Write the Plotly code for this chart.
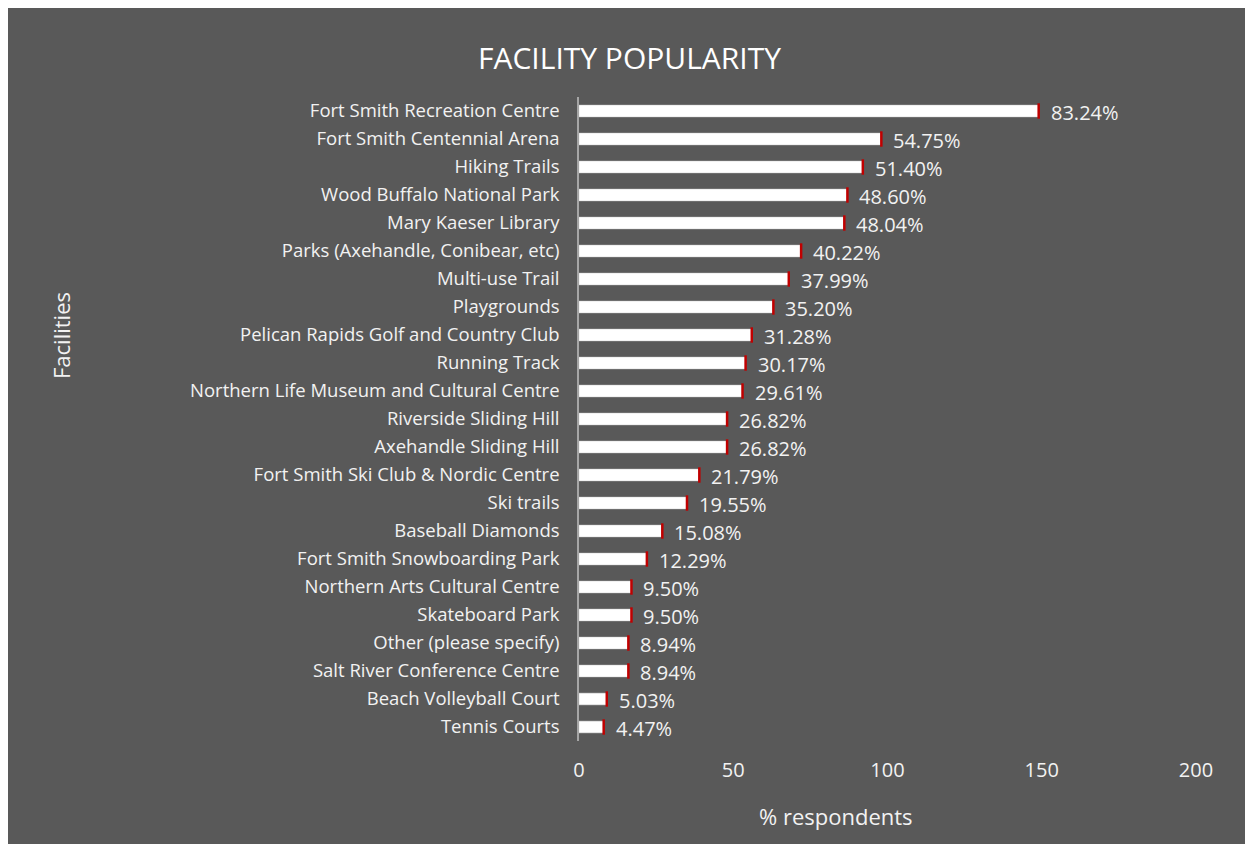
import plotly.graph_objects as go

facilities = [
    "Fort Smith Recreation Centre",
    "Fort Smith Centennial Arena",
    "Hiking Trails",
    "Wood Buffalo National Park",
    "Mary Kaeser Library",
    "Parks (Axehandle, Conibear, etc)",
    "Multi-use Trail",
    "Playgrounds",
    "Pelican Rapids Golf and Country Club",
    "Running Track",
    "Northern Life Museum and Cultural Centre",
    "Riverside Sliding Hill",
    "Axehandle Sliding Hill",
    "Fort Smith Ski Club & Nordic Centre",
    "Ski trails",
    "Baseball Diamonds",
    "Fort Smith Snowboarding Park",
    "Northern Arts Cultural Centre",
    "Skateboard Park",
    "Other (please specify)",
    "Salt River Conference Centre",
    "Beach Volleyball Court",
    "Tennis Courts",
]
respondents = [149, 98, 92, 87, 86, 72, 68, 63, 56, 54, 53, 48, 48, 39, 35, 27, 22, 17, 17, 16, 16, 9, 8]
percent_labels = ["83.24%", "54.75%", "51.40%", "48.60%", "48.04%", "40.22%", "37.99%", "35.20%",
                  "31.28%", "30.17%", "29.61%", "26.82%", "26.82%", "21.79%", "19.55%", "15.08%",
                  "12.29%", "9.50%", "9.50%", "8.94%", "8.94%", "5.03%", "4.47%"]
x_ticks = [0, 50, 100, 150, 200]

FONT = "Open Sans"
BG = "#595959"
TXT = "#F2F2F2"

fig = go.Figure()
fig.add_trace(go.Bar(
    x=respondents, y=facilities, orientation="h",
    marker=dict(color="#FFFFFF", line=dict(color="#D0D0D0", width=0.5)),
    width=0.42, hoverinfo="x+y", showlegend=False,
))
fig.add_trace(go.Scatter(
    x=respondents, y=facilities, mode="markers",
    marker=dict(symbol="line-ns", size=11, line=dict(color="#C00000", width=2.5)),
    hoverinfo="skip", showlegend=False,
))

for f, v, lab in zip(facilities, respondents, percent_labels):
    fig.add_annotation(x=v, y=f, text=lab, showarrow=False, xanchor="left",
                       xshift=10, yshift=-1,
                       font=dict(family=FONT, size=20, color=TXT))

# figure is placed with an 8px page margin; coordinates below are figure pixels
W, H = 1253, 844
ml, mr, mt, mb = 571, 65, 89, 111
pw = W - ml - mr
ph = H - mt - mb

def px_x(p):
    return (p - ml) / pw

def px_y(p):
    return 1 - (p - mt) / ph

fig.add_annotation(xref="paper", yref="paper", x=px_x(621), y=px_y(49), text="FACILITY POPULARITY",
                   showarrow=False, xanchor="center", yanchor="middle",
                   font=dict(family=FONT, size=30, color="#FFFFFF"))
fig.add_annotation(xref="paper", yref="paper", x=px_x(828), y=px_y(808), text="% respondents",
                   showarrow=False, xanchor="center", yanchor="middle",
                   font=dict(family=FONT, size=22, color=TXT))
fig.add_annotation(xref="paper", yref="paper", x=px_x(53), y=px_y(328), text="Facilities",
                   showarrow=False, xanchor="center", yanchor="middle", textangle=-90,
                   font=dict(family=FONT, size=22, color=TXT))

fig.update_layout(
    width=W, height=H,
    margin=dict(l=ml, r=mr, t=mt, b=mb, autoexpand=False),
    paper_bgcolor=BG, plot_bgcolor=BG,
    font=dict(family=FONT, color=TXT),
)
fig.update_xaxes(range=[0, 200], tickvals=x_ticks, showgrid=False, zeroline=False,
                 showline=False, ticks="", tickfont=dict(family=FONT, size=20, color=TXT),
                 ticklabelstandoff=15, fixedrange=True)
fig.update_yaxes(categoryorder="array", categoryarray=facilities[::-1], autorange=False,
                 range=[-0.5, len(facilities) - 0.5],
                 showgrid=False, zeroline=False, showline=True, linecolor="#A6A6A6", linewidth=1.5,
                 ticks="", ticklabelstandoff=14,
                 tickfont=dict(family=FONT, size=18.5, color=TXT), fixedrange=True)

fig.write_html("out.html")
